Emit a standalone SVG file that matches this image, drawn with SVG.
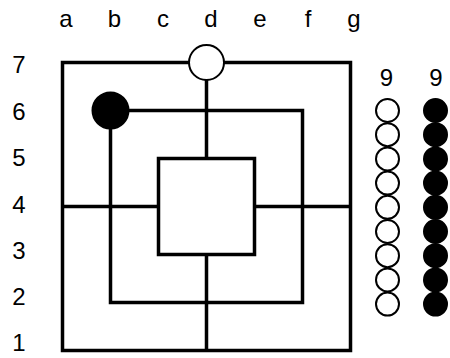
<svg xmlns="http://www.w3.org/2000/svg" width="450" height="358" viewBox="0 0 450 358">
<style>
text{font-family:"Liberation Sans",Arial,sans-serif;font-size:24px;fill:#000;text-anchor:middle}
.ln{fill:none;stroke:#000;stroke-width:3.5}
.w{fill:#fff;stroke:#000;stroke-width:2}
.b{fill:#000;stroke:#000;stroke-width:2}
</style>
<rect width="450" height="358" fill="#fff"/>
<g id="col-labels">
<text x="66" y="27">a</text><text x="114.5" y="27">b</text><text x="163" y="27">c</text><text x="211" y="27">d</text><text x="260" y="27">e</text><text x="308" y="27">f</text><text x="354" y="27">g</text>
</g>
<g id="row-labels">
<text x="19" y="72.5">7</text><text x="19" y="119.5">6</text><text x="19" y="166">5</text><text x="19" y="212.5">4</text><text x="19" y="258.5">3</text><text x="19" y="305">2</text><text x="19" y="351">1</text>
</g>
<g id="connectors">
<rect class="ln" x="62.5" y="62.5" width="288" height="288"/>
<rect class="ln" x="110.5" y="110.5" width="192" height="192"/>
<rect class="ln" x="158.5" y="158.5" width="96" height="96"/>
<path class="ln" d="M206.5 62.5V158.5M206.5 254.5V350.5M62.5 206.5H158.5M254.5 206.5H350.5"/>
</g>
<g id="piece-d7"><circle class="w" cx="206.5" cy="62.5" r="17.5"/></g>
<g id="piece-b6"><circle class="b" cx="110.5" cy="110.5" r="18"/></g>
<g id="white-reserve">
<text x="386.5" y="86">9</text>
<circle class="w" cx="387.5" cy="110.5" r="11.5"/><circle class="w" cx="387.5" cy="134.7" r="11.5"/><circle class="w" cx="387.5" cy="158.9" r="11.5"/><circle class="w" cx="387.5" cy="183.1" r="11.5"/><circle class="w" cx="387.5" cy="207.3" r="11.5"/><circle class="w" cx="387.5" cy="231.5" r="11.5"/><circle class="w" cx="387.5" cy="255.7" r="11.5"/><circle class="w" cx="387.5" cy="279.9" r="11.5"/><circle class="w" cx="387.5" cy="304.1" r="11.5"/>
</g>
<g id="black-reserve">
<text x="436" y="86">9</text>
<circle class="b" cx="435.5" cy="110.5" r="11.5"/><circle class="b" cx="435.5" cy="134.7" r="11.5"/><circle class="b" cx="435.5" cy="158.9" r="11.5"/><circle class="b" cx="435.5" cy="183.1" r="11.5"/><circle class="b" cx="435.5" cy="207.3" r="11.5"/><circle class="b" cx="435.5" cy="231.5" r="11.5"/><circle class="b" cx="435.5" cy="255.7" r="11.5"/><circle class="b" cx="435.5" cy="279.9" r="11.5"/><circle class="b" cx="435.5" cy="304.1" r="11.5"/>
</g>
</svg>
